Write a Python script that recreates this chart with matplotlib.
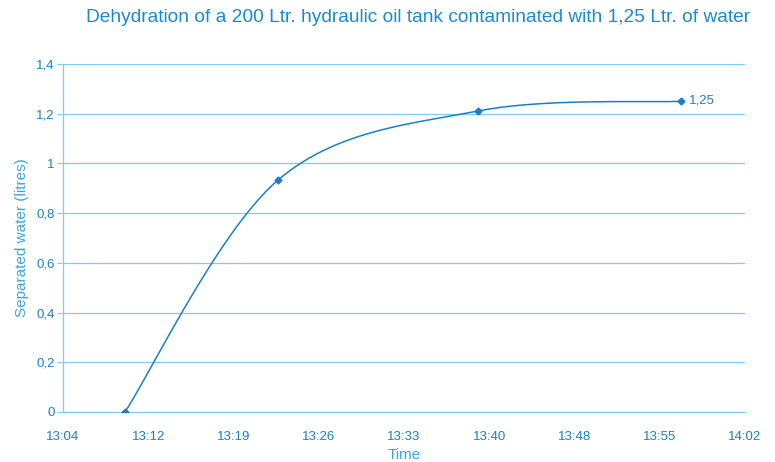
import matplotlib.pyplot as plt
import numpy as np

plt.rcParams['font.family'] = ['Liberation Sans', 'DejaVu Sans']

# minutes after 13:04
x_min = [5.27, 18.28, 35.3, 52.56]
water = [0.0, 0.933, 1.211, 1.25]
tick_labels = ["13:04", "13:12", "13:19", "13:26", "13:33", "13:40", "13:48", "13:55", "14:02"]
y_ticks = [0, 0.2, 0.4, 0.6, 0.8, 1.0, 1.2, 1.4]
y_labels = ["0", "0,2", "0,4", "0,6", "0,8", "1", "1,2", "1,4"]

XMAX, YMAX = 58.0, 1.4


def smooth(xs, ys, n=60):
    # excel style bezier smoothing, done in axis-normalised space
    p = np.column_stack([np.array(xs) / XMAX, np.array(ys) / YMAX])
    p = np.vstack([p[0], p, p[-1]])
    out = []
    t = np.linspace(0, 1, n)[:, None]
    for i in range(1, len(p) - 2):
        p0, p1 = p[i], p[i + 1]
        c1 = p0 + (p[i + 1] - p[i - 1]) / 6
        c2 = p1 - (p[i + 2] - p[i]) / 6
        seg = (1 - t) ** 3 * p0 + 3 * (1 - t) ** 2 * t * c1 + 3 * (1 - t) * t ** 2 * c2 + t ** 3 * p1
        out.append(seg)
    out = np.vstack(out)
    return out[:, 0] * XMAX, out[:, 1] * YMAX


line_c = '#1b7fc6'
grid_c = '#7fcdef'
text_c = '#1a80c4'
label_c = '#3aa6df'

fig = plt.figure(figsize=(7.75, 4.62), dpi=100)
ax = fig.add_axes([63 / 775, 50 / 462, 682 / 775, 348 / 462])

sx, sy = smooth(x_min, water)
ax.plot(sx, sy, color=line_c, lw=1.1, zorder=3)
ax.plot(x_min, water, 'D', color=line_c, ms=3.5, zorder=4)
ax.annotate("1,25", (x_min[-1], water[-1]), xytext=(6, 0.5), textcoords='offset points',
            va='center', ha='left', color=text_c, fontsize=9.5)

ax.set_xlim(0, XMAX)
ax.set_ylim(0, YMAX)
ax.set_xticks(np.linspace(0, XMAX, len(tick_labels)))
ax.set_xticklabels(tick_labels)
ax.set_yticks(y_ticks)
ax.set_yticklabels(y_labels)
ax.tick_params(colors=grid_c, labelcolor=text_c, labelsize=9.5, length=4, width=0.8)
ax.tick_params(axis='y', pad=2)
ax.tick_params(axis='x', pad=14, length=0)
ax.grid(axis='y', color=grid_c, lw=0.9)
ax.set_axisbelow(True)
for s in ['top', 'right']:
    ax.spines[s].set_visible(False)
for s in ['left', 'bottom']:
    ax.spines[s].set_color(grid_c)
    ax.spines[s].set_linewidth(0.9)

ax.set_xlabel("Time", color=label_c, fontsize=11, labelpad=3)
ax.set_ylabel("Separated water (litres)", color=label_c, fontsize=11, labelpad=5)
fig.text(418 / 775, 1 - 18 / 462, "Dehydration of a 200 Ltr. hydraulic oil tank contaminated with 1,25 Ltr. of water",
         ha='center', va='center', color='#1a8ad4', fontsize=13.8)

fig.savefig('out.png', dpi=100)
